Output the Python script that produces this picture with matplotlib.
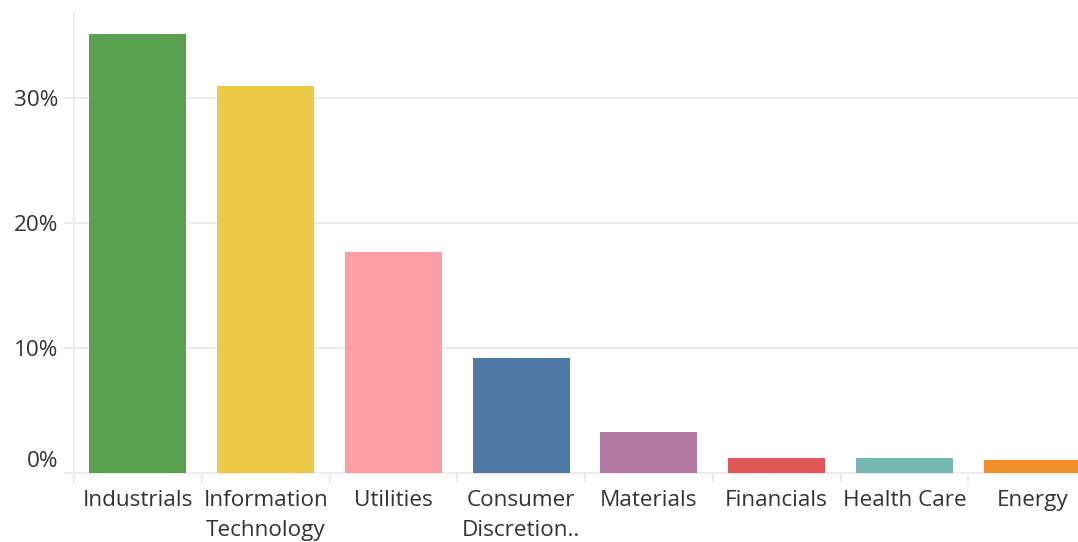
import matplotlib.pyplot as plt
from matplotlib.transforms import ScaledTranslation
import numpy as np

# sector shares in percent
sectors = ['Industrials', 'Information\nTechnology', 'Utilities', 'Consumer\nDiscretion..',
           'Materials', 'Financials', 'Health Care', 'Energy']
share = [35.1, 31.0, 17.7, 9.2, 3.3, 1.2, 1.2, 1.05]
colors = ['#59A14F', '#EDC948', '#FF9DA7', '#4E79A7', '#B07AA1', '#E15759', '#76B7B2', '#F28E2B']
yticks = [0, 10, 20, 30]

plt.rcParams['font.family'] = ['Open Sans', 'DejaVu Sans']
GRID = '#ececec'
TEXT = '#333333'

fig = plt.figure(figsize=(10.78, 5.42), dpi=100)
# the right part of the last slot runs past the image edge, like in the source
ax = fig.add_axes([74 / 1078, 69 / 542, 1022 / 1078, 461 / 542])

x = np.arange(len(sectors))
ax.bar(x, share, width=0.76, color=colors, zorder=3)

ax.set_xlim(-0.5, len(sectors) - 0.5)
ax.set_ylim(0, 36.9)

ax.set_yticks(yticks)
ax.set_yticklabels([f'{v}%' for v in yticks])
ax.yaxis.grid(True, color=GRID, linewidth=1.3, zorder=0)

ax.set_xticks(x)
ax.set_xticklabels(sectors, linespacing=1.52)
ax.set_xticks(np.arange(len(sectors) + 1) - 0.5, minor=True)

for side in ['top', 'right']:
    ax.spines[side].set_visible(False)
for side in ['left', 'bottom']:
    ax.spines[side].set_color(GRID)
    ax.spines[side].set_linewidth(1.3)

ax.tick_params(axis='x', which='major', length=0, pad=12.5, labelsize=16.2, labelcolor=TEXT)
ax.tick_params(axis='x', which='minor', length=7.5, width=1.3, color=GRID)
ax.tick_params(axis='y', length=7.5, width=1.3, color=GRID, pad=4, labelsize=16.2, labelcolor=TEXT)

# the 0% label sits a bit above the baseline
lbl0 = ax.get_yticklabels()[0]
lbl0.set_transform(lbl0.get_transform() + ScaledTranslation(0, 14 / 100, fig.dpi_scale_trans))

fig.savefig('out.png', dpi=100)
